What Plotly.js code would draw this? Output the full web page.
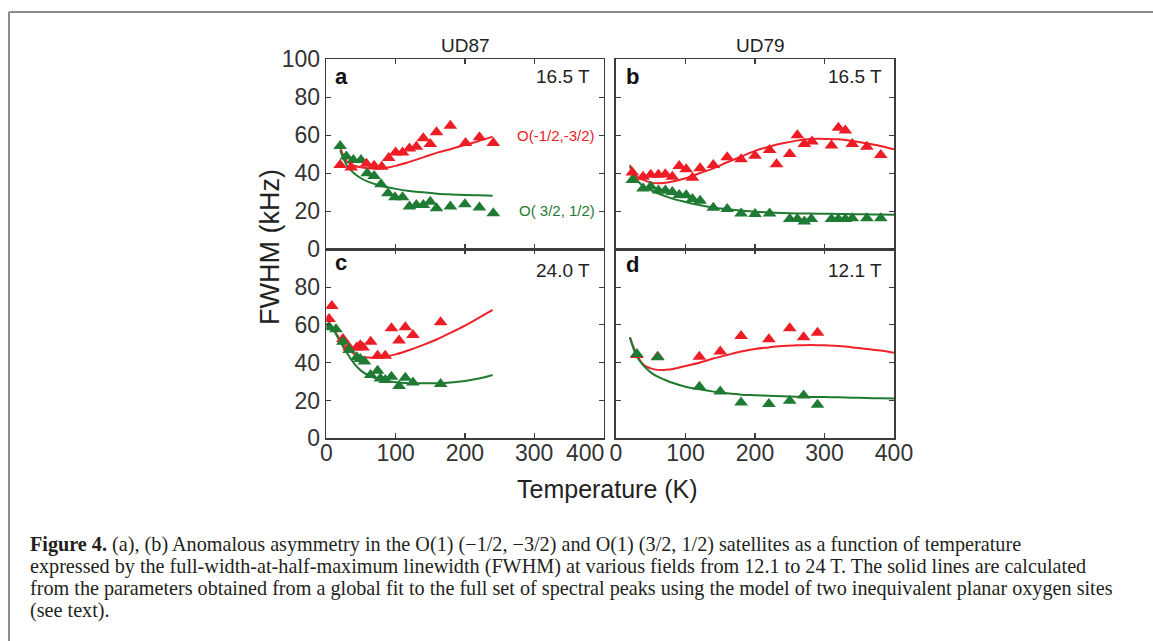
<!DOCTYPE html>
<html>
<head>
<meta charset="utf-8">
<script src="https://cdn.plot.ly/plotly-3.0.1.min.js"></script>
<style>
  html, body { margin: 0; padding: 0; background: #fff; }
  #chart { width: 1153px; height: 641px; }
</style>
</head>
<body>
<div id="chart"></div>
<script>
// ---- UD87, 16.5 T (panel a) ----
const aRedT = [20, 36, 58, 69, 80, 90, 100, 110, 120, 130, 140, 150, 159, 179, 201, 221, 241];
const aRedW = [44.4, 43, 45, 44, 43.5, 48, 51, 51, 53, 54, 58.4, 55.4, 61.6, 65, 56, 59, 56];
const aGreenT = [20, 29, 39, 50, 59, 69, 79, 89, 99, 110, 120, 130, 140, 150, 159, 179, 200, 221, 241];
const aGreenW = [54.4, 48.8, 47, 47, 40, 38.6, 34.2, 29.5, 27.4, 27.4, 22.5, 23.3, 23.3, 25, 21.6, 22.5, 23.7, 22, 19];
const aFitT = [20, 30, 40, 50, 60, 80, 100, 120, 140, 160, 180, 200, 220, 240];
const aFitRed = [53.5, 46, 44, 43.2, 42.6, 42.6, 43.9, 46, 48.4, 50.9, 52.8, 54.9, 57, 59.3];
const aFitGreen = [52, 43.9, 40, 37.4, 35.6, 33.3, 31.8, 30.7, 30, 29.3, 28.9, 28.6, 28.4, 28.2];

// ---- UD79, 16.5 T (panel b) ----
const bRedT = [23.5, 39, 50, 61, 71, 81, 91, 101, 110, 121, 140, 160, 180, 200, 221, 231, 250, 261, 271, 282, 310, 320, 330, 340, 361, 381];
const bRedW = [40.4, 38.2, 39.3, 39.3, 39.5, 38.2, 43.9, 42.1, 37.7, 42.6, 44.4, 48.4, 47.4, 49.3, 52.3, 44.7, 50.2, 60, 55.4, 56.7, 54.6, 64, 62.5, 55.4, 54, 49.6];
const bGreenT = [23.5, 39, 50, 61, 71, 81, 91, 101, 110, 121, 140, 160, 180, 200, 221, 250, 261, 271, 281, 310, 320, 330, 340, 361, 381];
const bGreenW = [36.5, 32, 33, 30.9, 30.9, 30.2, 28.6, 28.4, 26.5, 25.6, 21.9, 21.2, 18.9, 18.6, 18.9, 16, 16, 14.6, 16, 16, 16, 16, 16.3, 16.3, 16.3];
const bFitT = [20, 30, 40, 50, 60, 80, 100, 120, 140, 160, 180, 200, 220, 240, 260, 280, 300, 320, 340, 360, 380, 400];
const bFitRed = [44.4, 38.2, 36.5, 35.1, 34.7, 35.6, 37.4, 40, 42.6, 45.8, 48.8, 51.8, 54, 55.8, 57.2, 58.1, 58.1, 57.9, 57, 55.8, 54.4, 52.6];
const bFitGreen = [43.5, 36.5, 33, 31.2, 29.5, 26.8, 24.9, 23.3, 21.9, 21.1, 20.4, 19.8, 19.4, 19.1, 18.9, 18.8, 18.7, 18.6, 18.5, 18.4, 18.3, 18.2];

// ---- UD87, 24.0 T (panel c) ----
const cRedT = [4, 8, 24, 33, 44, 49, 53, 64, 74, 85, 94, 105, 114, 125, 165];
const cRedW = [63.1, 70, 52.6, 48.1, 48.1, 49.2, 48.1, 51.1, 43.7, 43.7, 58.2, 51.7, 58.7, 54.7, 61.4];
const cGreenT = [4, 14, 24, 33, 44, 49, 55, 64, 74, 78, 85, 94, 105, 114, 125, 165];
const cGreenW = [58.7, 57.7, 51.1, 46.7, 42.9, 42, 40.6, 33.5, 35.8, 31.7, 30.9, 32.6, 27.7, 32.1, 29.5, 28.7];
const cFitT = [0, 10, 20, 30, 40, 50, 60, 80, 100, 120, 140, 160, 180, 200, 220, 240];
const cFitRed = [63.1, 58.2, 52, 47.6, 44.6, 43.2, 42.7, 42.9, 44.4, 46.7, 49.4, 52.4, 55.9, 59.6, 63.7, 67.9];
const cFitGreen = [60.8, 57.3, 51.1, 45, 39.7, 35.8, 33.5, 30.9, 29.6, 29.1, 29.1, 29.1, 29.5, 30.3, 31.6, 33.5];

// ---- UD79, 12.1 T (panel d) ----
const dRedT = [30, 60, 120, 150, 180, 220, 250, 270, 290];
const dRedW = [44.1, 43.2, 43.2, 45.9, 54.1, 52.4, 58.2, 53.4, 55.9];
const dGreenT = [30, 60, 120, 150, 180, 220, 250, 270, 290];
const dGreenW = [44.6, 42.9, 27.3, 24.7, 19, 18.2, 19.9, 22.6, 17.8];
const dFitT = [20, 30, 40, 50, 60, 70, 80, 100, 120, 140, 160, 180, 200, 220, 240, 260, 280, 300, 320, 340, 360, 380, 400];
const dFitRed = [53.4, 44.1, 38.8, 37, 36.2, 36.2, 36.5, 38.3, 40, 42.2, 44.1, 45.9, 47.3, 48.1, 48.9, 49.2, 49.4, 49.2, 48.9, 48.1, 47.3, 46.4, 45.3];
const dFitGreen = [53.4, 43.2, 38.3, 34.9, 32.6, 31, 29.5, 27.3, 25.9, 24.7, 23.8, 23.1, 22.8, 22.5, 22.2, 22.0, 21.9, 21.8, 21.7, 21.5, 21.3, 21.2, 21];

// Tick values and labels; the left column's "400" is set as a separate label,
// pulled inward so it clears the "0" of the right column
const xTicks = [0, 100, 200, 300, 400];
const xTickTextLeft = ['0', '100', '200', '300', ''];
const xTickTextRight = ['0', '100', '200', '300', '400'];
const yTicksTop = [0, 20, 40, 60, 80, 100];
const yTicksBottom = [0, 20, 40, 60, 80];

// Text
const columnTitles = ['UD87', 'UD79'];
const panelLetters = ['a', 'b', 'c', 'd'];
const panelFields = ['16.5 T', '16.5 T', '24.0 T', '12.1 T'];
const seriesNames = ['O(-1/2,-3/2)', 'O( 3/2, 1/2)'];
const captionLines = [
  '<b>Figure 4.</b> (a), (b) Anomalous asymmetry in the O(1) (\u22121/2, \u22123/2) and O(1) (3/2, 1/2) satellites as a function of temperature',
  'expressed by the full-width-at-half-maximum linewidth (FWHM) at various fields from 12.1 to 24 T. The solid lines are calculated',
  'from the parameters obtained from a global fit to the full set of spectral peaks using the model of two inequivalent planar oxygen sites',
  '(see text).'
];

const W = 1153, H = 641;
const px = v => v / W;          // pixel column -> paper x
const py = v => 1 - v / H;      // pixel row -> paper y

const RED = '#ee1c25';
const GREEN = '#1f7a33';
const RED_LINE = '#ee2228';
const GREEN_LINE = '#1f7a30';
const AXIS = '#3c3c3c';
const TICK_TEXT = '#333333';
const SANS = 'Liberation Sans, Arial, Helvetica, sans-serif';
const SERIF = 'Liberation Serif, Times New Roman, serif';

function markers(x, y, color, ax) {
  return {
    x: x, y: y, type: 'scatter', mode: 'markers',
    xaxis: ax[0], yaxis: ax[1], hoverinfo: 'skip',
    marker: { symbol: 'triangle-up', size: 12, color: color, line: { width: 0 } }
  };
}
function fit(x, y, color, ax) {
  return {
    x: x, y: y, type: 'scatter', mode: 'lines',
    xaxis: ax[0], yaxis: ax[1], hoverinfo: 'skip',
    line: { color: color, width: 2, shape: 'spline', smoothing: 1 }
  };
}

const A = ['x', 'y'], B = ['x2', 'y2'], C = ['x3', 'y3'], D = ['x4', 'y4'];
const traces = [
  fit(aFitT, aFitRed, RED_LINE, A),
  fit(aFitT, aFitGreen, GREEN_LINE, A),
  markers(aGreenT, aGreenW, GREEN, A),
  markers(aRedT, aRedW, RED, A),

  fit(bFitT, bFitRed, RED_LINE, B),
  fit(bFitT, bFitGreen, GREEN_LINE, B),
  markers(bGreenT, bGreenW, GREEN, B),
  markers(bRedT, bRedW, RED, B),

  fit(cFitT, cFitRed, RED_LINE, C),
  fit(cFitT, cFitGreen, GREEN_LINE, C),
  markers(cRedT, cRedW, RED, C),
  markers(cGreenT, cGreenW, GREEN, C),

  fit(dFitT, dFitRed, RED_LINE, D),
  fit(dFitT, dFitGreen, GREEN_LINE, D),
  markers(dRedT, dRedW, RED, D),
  markers(dGreenT, dGreenW, GREEN, D)
];

const colL = [px(326.3), px(603.5)];
const colR = [px(616), px(894)];
const rowTop = [py(249.3), py(59.3)];
const rowBot = [py(438.3), py(249.3)];

function xAxis(domain, anchor, labels, text) {
  return {
    domain: domain, anchor: anchor, range: [0, 400],
    tickmode: 'array', tickvals: xTicks, ticktext: text,
    showticklabels: labels, ticks: 'inside', ticklen: 5, tickwidth: 1.2, tickcolor: AXIS,
    ticklabelstandoff: -7,
    showline: true, linecolor: AXIS, linewidth: 1.6, mirror: 'ticks',
    showgrid: false, zeroline: false,
    tickfont: { family: SANS, size: 23, color: TICK_TEXT }
  };
}
function yAxis(domain, anchor, labels, ticks) {
  return {
    domain: domain, anchor: anchor, range: [0, 100], tickvals: ticks,
    showticklabels: labels, ticks: 'inside', ticklen: 5, tickwidth: 1.2, tickcolor: AXIS,
    showline: true, linecolor: AXIS, linewidth: 1.6, mirror: 'ticks',
    showgrid: false, zeroline: false,
    tickfont: { family: SANS, size: 23, color: TICK_TEXT }
  };
}

const annotations = [];
function label(text, x, y, opts) {
  annotations.push(Object.assign({
    text: text, x: px(x), y: py(y), xref: 'paper', yref: 'paper',
    showarrow: false, xanchor: 'center', yanchor: 'middle',
    font: { family: SANS, size: 19, color: '#222' }
  }, opts || {}));
}

// column headers
label(columnTitles[0], 465, 45, { font: { family: SANS, size: 19, color: '#222' } });
label(columnTitles[1], 761, 45, { font: { family: SANS, size: 19, color: '#222' } });

// panel letters and field values
const letterPos = [[333, 76], [624, 76], [333, 262], [624, 265]];
const fieldPos = [[592, 76], [884, 76], [592, 270], [884, 270]];
panelLetters.forEach((t, i) => {
  label('<b>' + t + '</b>', letterPos[i][0], letterPos[i][1],
    { xanchor: 'left', font: { family: SANS, size: 22, color: '#111' } });
  label(panelFields[i], fieldPos[i][0], fieldPos[i][1],
    { xanchor: 'right', font: { family: SANS, size: 19, color: '#222' } });
});

// series names in panel a
label(seriesNames[0], 597, 135, { xanchor: 'right', font: { family: SANS, size: 15, color: RED } });
label(seriesNames[1], 597, 210, { xanchor: 'right', font: { family: SANS, size: 15, color: GREEN } });

// last x label of the left column
label(String(xTicks[4]), 585, 453, { font: { family: SANS, size: 23, color: TICK_TEXT } });

// shared axis titles
label('Temperature (K)', 607, 489, { font: { family: SANS, size: 25, color: '#222' } });
label('FWHM (kHz)', 270, 247, { textangle: -90, font: { family: SANS, size: 27, color: '#222' } });

// caption
const capY = [544, 566, 588, 610];
captionLines.forEach((t, i) => {
  label(t, 28, capY[i], { xanchor: 'left', font: { family: SERIF, size: 20.2, color: '#231f20' } });
});

const layout = {
  width: W, height: H,
  margin: { l: 0, r: 0, t: 0, b: 0 },
  paper_bgcolor: '#ffffff', plot_bgcolor: 'rgba(0,0,0,0)',
  showlegend: false,
  xaxis: xAxis(colL, 'y', false, xTickTextLeft),
  yaxis: yAxis(rowTop, 'x', true, yTicksTop),
  xaxis2: xAxis(colR, 'y2', false, xTickTextRight),
  yaxis2: yAxis(rowTop, 'x2', false, yTicksTop),
  xaxis3: xAxis(colL, 'y3', true, xTickTextLeft),
  yaxis3: yAxis(rowBot, 'x3', true, yTicksBottom),
  xaxis4: xAxis(colR, 'y4', true, xTickTextRight),
  yaxis4: yAxis(rowBot, 'x4', false, yTicksBottom),
  annotations: annotations,
  shapes: [
    { type: 'line', xref: 'paper', yref: 'paper', x0: px(9), x1: px(9), y0: 0, y1: py(12),
      line: { color: '#8c8c8c', width: 2 } },
    { type: 'line', xref: 'paper', yref: 'paper', x0: px(9), x1: 1, y0: py(12), y1: py(12),
      line: { color: '#8c8c8c', width: 2 } }
  ]
};

Plotly.newPlot('chart', traces, layout, { staticPlot: true, displayModeBar: false });
</script>
</body>
</html>
